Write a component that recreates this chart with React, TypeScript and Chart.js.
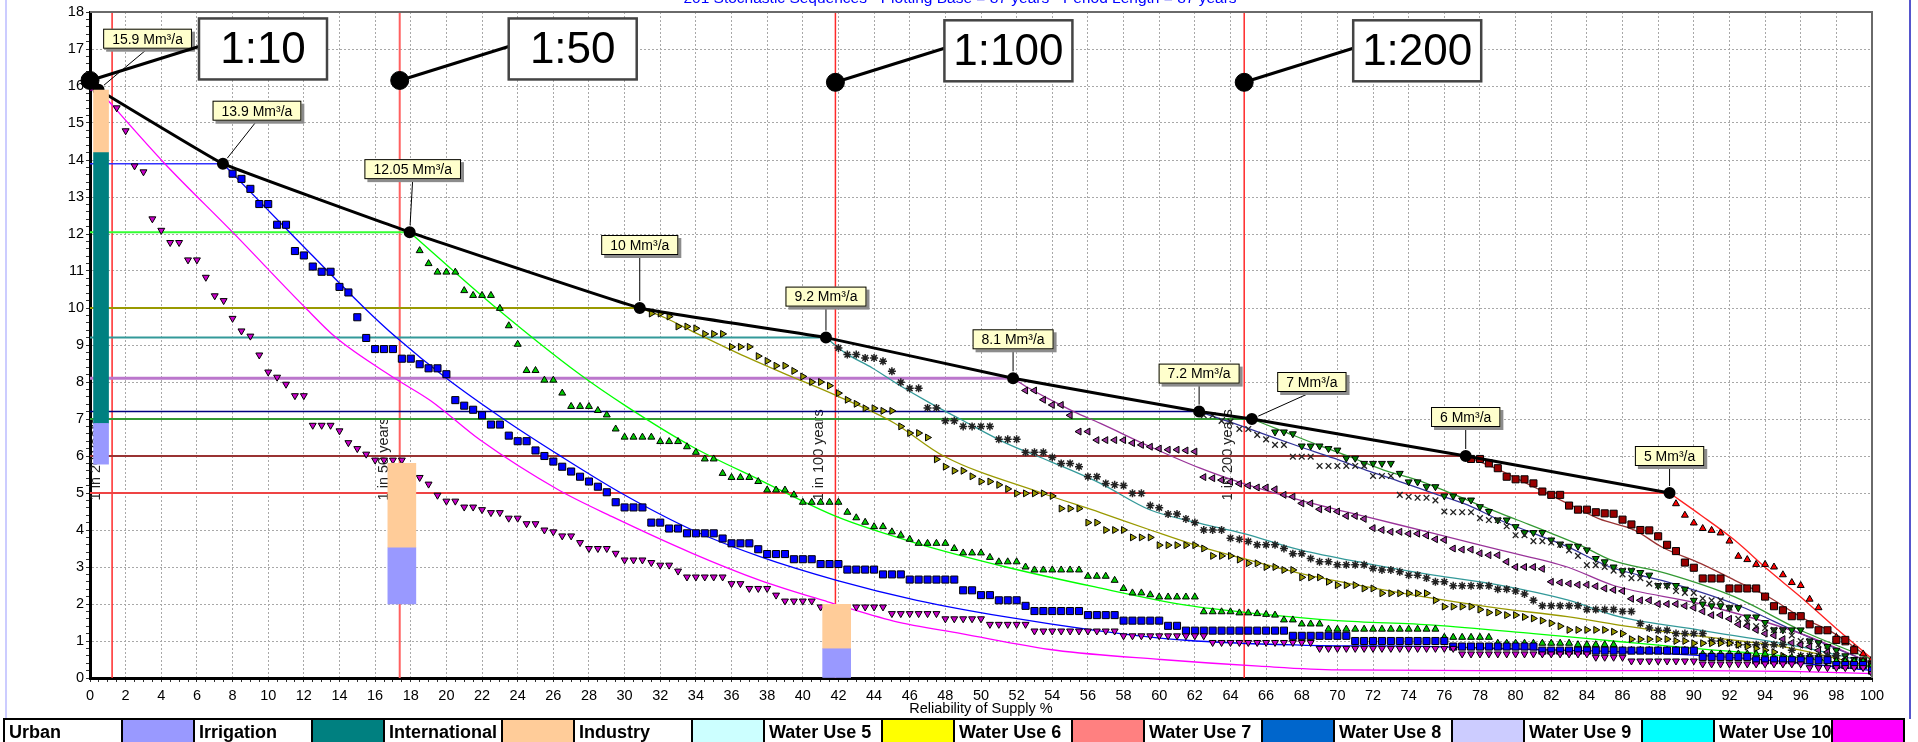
import React, { useEffect, useRef } from "react";
import { Chart, registerables } from "chart.js";

Chart.register(...registerables);

const FONT = '"Liberation Sans", Arial, Helvetica, sans-serif';

// ---------------- DATA ----------------
const chartTitle = "201 Stochastic Sequences - Plotting Base = 87 years - Period Length = 87 years";
const xAxisTitle = "Reliability of Supply %";

// plotting positions of the stochastic sequences (% reliability)
const reliability = [
  0.5, 1, 1.5, 2, 2.5, 3, 3.5, 4, 4.5, 5, 5.5, 6, 6.5, 7, 7.5, 8, 8.5, 9, 9.5, 10,
  10.5, 11, 11.5, 12, 12.5, 13, 13.5, 14, 14.5, 15, 15.5, 16, 16.5, 17, 17.5, 18, 18.5, 19, 19.5, 20,
  20.5, 21, 21.5, 22, 22.5, 23, 23.5, 24, 24.5, 25, 25.5, 26, 26.5, 27, 27.5, 28, 28.5, 29, 29.5, 30,
  30.5, 31, 31.5, 32, 32.5, 33, 33.5, 34, 34.5, 35, 35.5, 36, 36.5, 37, 37.5, 38, 38.5, 39, 39.5, 40,
  40.5, 41, 41.5, 42, 42.5, 43, 43.5, 44, 44.5, 45, 45.5, 46, 46.5, 47, 47.5, 48, 48.5, 49, 49.5, 50,
  50.5, 51, 51.5, 52, 52.5, 53, 53.5, 54, 54.5, 55, 55.5, 56, 56.5, 57, 57.5, 58, 58.5, 59, 59.5, 60,
  60.5, 61, 61.5, 62, 62.5, 63, 63.5, 64, 64.5, 65, 65.5, 66, 66.5, 67, 67.5, 68, 68.5, 69, 69.5, 70,
  70.5, 71, 71.5, 72, 72.5, 73, 73.5, 74, 74.5, 75, 75.5, 76, 76.5, 77, 77.5, 78, 78.5, 79, 79.5, 80,
  80.5, 81, 81.5, 82, 82.5, 83, 83.5, 84, 84.5, 85, 85.5, 86, 86.5, 87, 87.5, 88, 88.5, 89, 89.5, 90,
  90.5, 91, 91.5, 92, 92.5, 93, 93.5, 94, 94.5, 95, 95.5, 96, 96.5, 97, 97.5, 98, 98.5, 99, 99.5, 100,
];

// yield / reliability points (Mm³/a)
const yieldX = [0.48, 7.46, 17.94, 30.85, 41.3, 51.8, 62.24, 65.2, 77.2, 88.64];
const yieldY = [15.9, 13.9, 12.05, 10, 9.2, 8.1, 7.2, 7, 6, 5];

// return period markers
const returnPeriodX = [1.24, 17.38, 41.83, 64.77];
const returnPeriodText = ["1 in 20 years", "1 in 50 years", "1 in 100 years", "1 in 200 years"];
const bigDotX = [0, 17.38, 41.83, 64.77];
const bigDotY = [16.15, 16.15, 16.1, 16.1];
const bigLabels = ["1:10", "1:50", "1:100", "1:200"];

// stacked user bars
const barX = [0.62, 17.5, 41.9];
const urbanRange: (number[] | null)[] = [[5.78, 6.88], [2.0, 3.52], [0, 0.79]];
const irrigationRange: (number[] | null)[] = [[6.88, 14.2], null, null];
const internationalRange: (number[] | null)[] = [[14.2, 15.89], [3.52, 5.8], [0.79, 1.99]];

// stochastic supply points per yield level (first reliability + successive values)
const markerStarts = [1.5, 8, 18.5, 31.5, 42, 52.5, 62.5, 66.5, 77.5, 89];

const m159 = [
  15.41, 14.79, 13.84, 13.68, 12.41, 12.1, 11.77, 11.77, 11.3, 11.3,
  10.83, 10.33, 10.2, 9.72, 9.38, 9.24, 8.73, 8.27, 8.13, 7.94,
  7.63, 7.63, 6.83, 6.83, 6.83, 6.68, 6.36, 6.2, 6.05, 5.89,
  5.89, 5.89, 5.89, 5.6, 5.42, 5.24, 4.94, 4.78, 4.78, 4.62,
  4.62, 4.55, 4.47, 4.47, 4.32, 4.32, 4.17, 4.17, 4.0, 3.95,
  3.84, 3.84, 3.66, 3.5, 3.5, 3.5, 3.37, 3.19, 3.19, 3.19,
  3.12, 3.05, 3.05, 2.89, 2.73, 2.73, 2.73, 2.73, 2.73, 2.55,
  2.55, 2.42, 2.42, 2.42, 2.24, 2.08, 2.08, 2.08, 2.08, 1.92,
  1.92, 1.92, 1.92, 1.92, 1.92, 1.92, 1.92, 1.74, 1.74, 1.74,
  1.74, 1.74, 1.74, 1.6, 1.6, 1.6, 1.6, 1.6, 1.45, 1.45,
  1.45, 1.45, 1.45, 1.27, 1.27, 1.27, 1.27, 1.27, 1.27, 1.27,
  1.27, 1.27, 1.27, 1.14, 1.14, 1.14, 1.14, 1.14, 1.14, 1.14,
  1.14, 1.14, 1.14, 0.96, 0.96, 0.96, 0.96, 0.96, 0.96, 0.96,
  0.96, 0.96, 0.96, 0.96, 0.96, 0.8, 0.8, 0.8, 0.8, 0.8,
  0.8, 0.8, 0.8, 0.8, 0.8, 0.8, 0.8, 0.8, 0.8, 0.8,
  0.8, 0.65, 0.65, 0.65, 0.65, 0.65, 0.65, 0.65, 0.65, 0.65,
  0.65, 0.65, 0.65, 0.65, 0.65, 0.65, 0.56, 0.56, 0.56, 0.56,
  0.46, 0.46, 0.46, 0.46, 0.46, 0.46, 0.46, 0.46, 0.38, 0.38,
  0.38, 0.38, 0.38, 0.38, 0.38, 0.38, 0.38, 0.38, 0.38, 0.38,
  0.28, 0.28, 0.28, 0.28, 0.28, 0.28, 0.28, 0.12,
];
const m139 = [
  13.63, 13.49, 13.22, 12.81, 12.81, 12.25, 12.25, 11.54, 11.42, 11.12,
  10.98, 10.98, 10.57, 10.42, 9.75, 9.19, 8.89, 8.89, 8.89, 8.63,
  8.63, 8.48, 8.37, 8.37, 8.21, 7.51, 7.36, 7.25, 7.1, 6.85,
  6.85, 6.55, 6.4, 6.4, 6.15, 6.0, 5.85, 5.71, 5.58, 5.44,
  5.31, 5.17, 5.02, 4.75, 4.61, 4.61, 4.61, 4.2, 4.2, 4.04,
  4.04, 3.91, 3.91, 3.91, 3.91, 3.77, 3.64, 3.64, 3.64, 3.48,
  3.35, 3.35, 3.35, 3.21, 3.21, 3.21, 3.08, 3.08, 3.08, 2.93,
  2.93, 2.93, 2.93, 2.8, 2.8, 2.8, 2.66, 2.66, 2.66, 2.66,
  2.66, 2.66, 2.37, 2.37, 2.24, 2.24, 2.1, 2.1, 2.1, 1.95,
  1.81, 1.81, 1.81, 1.81, 1.81, 1.81, 1.7, 1.7, 1.7, 1.7,
  1.55, 1.55, 1.55, 1.55, 1.55, 1.41, 1.41, 1.28, 1.28, 1.28,
  1.28, 1.28, 1.28, 1.28, 1.28, 1.28, 1.28, 1.28, 1.28, 1.14,
  1.14, 1.14, 1.14, 1.14, 1.14, 1.14, 1.0, 1.0, 1.0, 1.0,
  1.0, 1.0, 1.0, 1.0, 1.0, 1.0, 1.0, 0.85, 0.85, 0.85,
  0.85, 0.85, 0.85, 0.85, 0.85, 0.85, 0.85, 0.74, 0.74, 0.74,
  0.74, 0.74, 0.74, 0.74, 0.74, 0.74, 0.74, 0.74, 0.74, 0.74,
  0.74, 0.74, 0.74, 0.74, 0.74, 0.57, 0.57, 0.57, 0.57, 0.57,
  0.57, 0.48, 0.48, 0.48, 0.48, 0.48, 0.48, 0.48, 0.48, 0.48,
  0.35, 0.35, 0.35, 0.35, 0.2,
];
const m1205 = [
  11.55, 11.2, 10.97, 10.97, 10.97, 10.47, 10.34, 10.34, 10.34, 9.99,
  9.52, 9.02, 8.31, 8.31, 8.05, 8.05, 7.7, 7.34, 7.34, 7.34,
  7.23, 7.11, 6.73, 6.51, 6.51, 6.51, 6.51, 6.39, 6.39, 6.39,
  6.25, 6.1, 5.92, 5.92, 5.53, 5.42, 5.42, 5.42, 5.31, 5.08,
  5.08, 5.08, 4.95, 4.75, 4.75, 4.75, 4.75, 4.75, 4.48, 4.33,
  4.21, 4.09, 4.09, 3.95, 3.86, 3.75, 3.64, 3.64, 3.64, 3.64,
  3.5, 3.38, 3.38, 3.38, 3.26, 3.14, 3.14, 3.14, 3.0, 2.92,
  2.92, 2.92, 2.92, 2.92, 2.92, 2.75, 2.75, 2.75, 2.64, 2.42,
  2.3, 2.3, 2.25, 2.19, 2.19, 2.19, 2.19, 2.19, 1.79, 1.79,
  1.79, 1.79, 1.76, 1.76, 1.74, 1.72, 1.7, 1.57, 1.57, 1.46,
  1.46, 1.46, 1.32, 1.32, 1.32, 1.32, 1.32, 1.32, 1.32, 1.32,
  1.32, 1.32, 1.32, 1.32, 1.32, 1.1, 1.1, 1.1, 1.1, 1.1,
  1.1, 0.94, 0.94, 0.94, 0.94, 0.94, 0.94, 0.94, 0.94, 0.94,
  0.9, 0.9, 0.9, 0.9, 0.9, 0.75, 0.75, 0.75, 0.75, 0.75,
  0.75, 0.75, 0.75, 0.75, 0.65, 0.65, 0.65, 0.65, 0.65, 0.65,
  0.65, 0.65, 0.55, 0.55, 0.55, 0.55, 0.55, 0.55, 0.45, 0.45,
  0.45, 0.45, 0.45, 0.35,
];
const m10 = [
  9.85, 9.85, 9.77, 9.5, 9.5, 9.45, 9.3, 9.3, 9.3, 8.95,
  8.95, 8.95, 8.7, 8.57, 8.44, 8.44, 8.3, 8.15, 8.0, 8.0,
  7.9, 7.7, 7.52, 7.41, 7.29, 7.29, 7.22, 7.22, 6.8, 6.62,
  6.62, 6.5, 5.91, 5.71, 5.6, 5.6, 5.45, 5.31, 5.31, 5.22,
  5.11, 4.99, 4.99, 4.99, 4.99, 4.92, 4.58, 4.58, 4.58, 4.2,
  4.2, 4.0, 4.0, 4.0, 3.8, 3.8, 3.8, 3.59, 3.59, 3.59,
  3.59, 3.59, 3.5, 3.3, 3.3, 3.3, 3.2, 3.1, 3.1, 3.0,
  3.0, 2.92, 2.92, 2.72, 2.72, 2.72, 2.6, 2.51, 2.51, 2.51,
  2.42, 2.42, 2.29, 2.29, 2.29, 2.29, 2.29, 2.29, 2.1, 1.93,
  1.93, 1.93, 1.93, 1.85, 1.77, 1.77, 1.7, 1.7, 1.65, 1.61,
  1.55, 1.48, 1.4, 1.3, 1.3, 1.3, 1.3, 1.3, 1.25, 1.2,
  1.05, 1.05, 1.05, 1.05, 1.05, 1.0, 1.0, 0.94, 0.94, 0.94,
  0.94, 0.94, 0.9, 0.85, 0.8, 0.75, 0.7, 0.6, 0.53, 0.53,
  0.53, 0.5, 0.44, 0.44, 0.44, 0.4, 0.35, 0.3,
];
const m92 = [
  8.92, 8.74, 8.74, 8.65, 8.65, 8.56, 8.29, 7.99, 7.83, 7.83,
  7.3, 7.3, 6.95, 6.95, 6.8, 6.8, 6.8, 6.8, 6.45, 6.45,
  6.45, 6.1, 6.1, 6.1, 5.96, 5.8, 5.8, 5.71, 5.44, 5.44,
  5.26, 5.22, 5.2, 4.99, 4.99, 4.66, 4.6, 4.43, 4.43, 4.3,
  4.2, 4.0, 4.0, 4.0, 3.78, 3.75, 3.69, 3.6, 3.6, 3.6,
  3.5, 3.36, 3.36, 3.23, 3.14, 3.14, 3.06, 3.06, 3.06, 3.06,
  2.96, 2.92, 2.92, 2.87, 2.78, 2.78, 2.7, 2.6, 2.6, 2.49,
  2.49, 2.49, 2.49, 2.49, 2.4, 2.4, 2.35, 2.27, 2.1, 1.95,
  1.95, 1.95, 1.95, 1.95, 1.85, 1.85, 1.85, 1.85, 1.8, 1.8,
  1.47, 1.35, 1.29, 1.29, 1.2, 1.2, 1.2, 1.2, 1.0, 1.0,
  0.95, 0.9, 0.9, 0.9, 0.9, 0.9, 0.9, 0.75, 0.6, 0.6,
  0.6, 0.6, 0.6, 0.45, 0.4, 0.35, 0.3,
];
const m81 = [
  7.77, 7.77, 7.52, 7.38, 7.38, 7.1, 6.66, 6.66, 6.43, 6.43,
  6.43, 6.43, 6.35, 6.3, 6.25, 6.2, 6.17, 6.17, 6.15, 6.12,
  5.43, 5.4, 5.35, 5.3, 5.25, 5.2, 5.15, 5.15, 5.1, 4.95,
  4.9, 4.72, 4.72, 4.56, 4.56, 4.5, 4.38, 4.38, 4.3, 4.05,
  4.0, 3.95, 3.95, 3.9, 3.9, 3.85, 3.75, 3.73, 3.5, 3.47,
  3.47, 3.37, 3.32, 3.32, 3.14, 3.0, 3.0, 3.0, 2.95, 2.6,
  2.58, 2.55, 2.52, 2.52, 2.48, 2.42, 2.38, 2.35, 2.14, 2.1,
  2.1, 2.0, 2.0, 2.0, 1.95, 1.9, 1.8, 1.7, 1.7, 1.6,
  1.45, 1.4, 1.3, 1.2, 1.15, 1.05, 0.95, 0.9, 0.85, 0.75,
  0.7, 0.6, 0.5, 0.45, 0.4, 0.3,
];
const m72 = [
  7.1, 7.1, 6.95, 6.93, 6.73, 6.73, 6.57, 6.45, 6.3, 6.3,
  5.98, 5.98, 5.98, 5.73, 5.73, 5.73, 5.73, 5.73, 5.73, 5.46,
  5.46, 5.46, 4.95, 4.9, 4.87, 4.87, 4.8, 4.5, 4.48, 4.48,
  4.48, 4.32, 4.27, 4.27, 4.1, 3.86, 3.86, 3.7, 3.7, 3.66,
  3.6, 3.45, 3.3, 3.05, 3.05, 3.0, 2.9, 2.8, 2.7, 2.7,
  2.55, 2.5, 2.5, 2.35, 2.3, 2.3, 2.15, 2.1, 2.1, 1.9,
  1.6, 1.5, 1.4, 1.35, 1.3, 1.3, 1.15, 1.0, 1.0, 0.9,
  0.75, 0.6, 0.55, 0.45, 0.4, 0.3,
];
const m7 = [
  6.65, 6.65, 6.6, 6.27, 6.27, 6.27, 6.2, 6.16, 5.94, 5.94,
  5.8, 5.8, 5.8, 5.8, 5.53, 5.3, 5.3, 5.17, 5.17, 4.92,
  4.92, 4.81, 4.81, 4.63, 4.5, 4.27, 4.27, 4.09, 3.93, 3.93,
  3.93, 3.73, 3.62, 3.56, 3.56, 3.46, 3.23, 3.14, 3.0, 2.9,
  2.9, 2.85, 2.78, 2.5, 2.5, 2.5, 2.4, 2.1, 2.0, 1.95,
  1.95, 1.9, 1.9, 1.65, 1.65, 1.5, 1.3, 1.3, 1.3, 1.3,
  1.0, 0.95, 0.85, 0.75, 0.6, 0.5, 0.45, 0.35,
];
const m6 = [
  5.92, 5.92, 5.8, 5.67, 5.44, 5.37, 5.37, 5.26, 5.04, 4.95,
  4.95, 4.66, 4.55, 4.55, 4.48, 4.45, 4.44, 4.28, 4.15, 4.0,
  3.99, 3.83, 3.6, 3.43, 3.12, 2.98, 2.69, 2.69, 2.69, 2.42,
  2.42, 2.42, 2.42, 2.2, 1.94, 1.83, 1.67, 1.67, 1.45, 1.29,
  1.29, 1.03, 1.03, 0.75, 0.45, 0.35,
];
const m5 = [
  4.71, 4.4, 4.19, 4.04, 3.99, 3.92, 3.7, 3.29, 3.2, 3.07,
  3.07, 3.0, 2.79, 2.58, 2.5, 2.13, 1.9, 1.27, 1.1, 0.95,
  0.8, 0.65, 0.52,
];

// fitted supply curves per yield level [reliability, Mm³/a]
const c159 = [[0.48, 15.9], [4.2, 13.9], [8.0, 12.05], [12.1, 10.0], [13.8, 9.2], [17.1, 8.1], [19.1, 7.5], [21.9, 6.43], [26.3, 5.08], [29.3, 4.36], [33.8, 3.37], [37.6, 2.64], [41.4, 2.06], [45.1, 1.54], [48.9, 1.2], [54.2, 0.75], [60.1, 0.5], [65.6, 0.32], [70, 0.22], [80, 0.2], [90, 0.2], [96, 0.17], [100, 0.12]];
const c139 = [[7.46, 13.9], [11.5, 11.9], [15.4, 10.0], [17.2, 9.2], [20.0, 8.1], [23.2, 7.0], [26.3, 6.03], [29.8, 5.0], [33.8, 4.0], [37.6, 3.28], [41.9, 2.64], [46.4, 2.1], [51.4, 1.65], [56.4, 1.29], [61.5, 1.02], [67.9, 0.89], [75.4, 0.85], [81, 0.77], [86, 0.71], [90, 0.62], [95, 0.45], [100, 0.2]];
const c1205 = [[17.94, 12.05], [22.8, 10.0], [27.5, 8.2], [30.1, 7.34], [33.8, 6.25], [37.6, 5.35], [41.9, 4.36], [46.4, 3.64], [51.4, 3.0], [56.4, 2.46], [61.5, 1.97], [65.5, 1.74], [70, 1.55], [75.4, 1.43], [81, 1.2], [85.9, 0.98], [90, 0.8], [95, 0.6], [100, 0.3]];
const c10 = [[30.85, 10], [32.3, 9.73], [33.8, 9.37], [36.35, 8.78], [38.9, 8.24], [41.8, 7.65], [45.1, 6.9], [47.9, 6.0], [53.4, 5.0], [56.7, 4.47], [59.5, 4.0], [62.3, 3.55], [64.7, 3.23], [67.9, 2.83], [71.6, 2.47], [75.4, 2.15], [79.1, 1.88], [82.9, 1.66], [85.8, 1.43], [90, 1.15], [95, 0.85], [100, 0.3]];
const c92 = [[41.3, 9.2], [42.4, 8.78], [43.9, 8.38], [45.4, 7.92], [47.15, 7.43], [48.9, 6.98], [51.4, 6.35], [53.9, 5.85], [56.7, 5.26], [59.5, 4.54], [62.3, 4.18], [64.7, 3.91], [67.9, 3.46], [71.6, 3.1], [75.4, 2.78], [79.1, 2.51], [82.9, 2.11], [85.8, 1.66], [90.4, 1.29], [96, 0.84], [100, 0.4]];
const c81 = [[51.8, 8.1], [52.7, 7.83], [53.9, 7.52], [55.2, 7.2], [56.7, 6.88], [59.5, 6.25], [62.3, 5.67], [64.7, 5.26], [67.9, 4.81], [71.6, 4.36], [75.4, 3.91], [79.1, 3.46], [82.9, 3.0], [85.5, 2.5], [90.4, 2.0], [96, 1.2], [100, 0.4]];
const c72 = [[62.24, 7.2], [64.2, 6.88], [66.0, 6.57], [67.9, 6.25], [69.8, 5.94], [71.6, 5.62], [73.5, 5.31], [75.4, 4.99], [77.3, 4.68], [79.1, 4.27], [81.0, 3.91], [82.9, 3.55], [85.3, 3.0], [88.5, 2.6], [92.3, 2.0], [96, 1.2], [100, 0.4]];
const c7 = [[65.2, 7.0], [67.0, 6.66], [68.9, 6.3], [70.7, 5.98], [72.6, 5.62], [74.5, 5.35], [76.4, 4.99], [78.2, 4.63], [80.1, 4.27], [82.0, 3.91], [83.8, 3.55], [85.3, 3.2], [88.5, 2.82], [92.3, 2.19], [96, 1.29], [100, 0.5]];
const c6 = [[77.2, 6.0], [79.1, 5.62], [81.0, 5.17], [82.9, 4.72], [84.7, 4.3], [86.7, 3.99], [88.2, 3.54], [90.4, 3.09], [92.3, 2.64], [94.2, 2.19], [96.0, 1.65], [97.9, 1.2], [100, 0.48]];
const c5 = [[88.64, 5.0], [90.4, 4.4], [92.3, 3.72], [94.2, 2.91], [96.0, 2.19], [97.9, 1.38], [100, 0.52]];

const markerValues = [m159, m139, m1205, m10, m92, m81, m72, m7, m6, m5];
const curves = [c159, c139, c1205, c10, c92, c81, c72, c7, c6, c5];

const legendNames = ["Urban", "Irrigation", "International", "Industry", "Water Use 5", "Water Use 6", "Water Use 7", "Water Use 8", "Water Use 9", "Water Use 10"];

// ---------------- STYLES ----------------
const legendColors = ["#9999ff", "#008080", "#ffcc99", "#ccffff", "#ffff00", "#ff8080", "#0066cc", "#ccccff", "#00ffff", "#ff00ff"];
const curveColors = ["#ff00ff", "#0000ff", "#00ff00", "#999900", "#339999", "#993399", "#333399", "#339933", "#993333", "#ff2020"];
const levelColors = ["#ff00ff", "#3333ff", "#33ff33", "#999900", "#339999", "#bb77cc", "#000080", "#339933", "#993333", "#ee4444"];
const levelWidths = [1.5, 1.5, 2, 2, 2, 3, 1.5, 2, 2, 2];
const markerShapes = ["triangle", "rect", "triangle", "triangle", "star", "triangle", "crossRot", "triangle", "rect", "triangle"];
const markerRotation = [180, 0, 0, 90, 0, 270, 0, 180, 0, 0];
const markerFill = ["#cc00cc", "#0000ff", "#00cc00", "#999900", "#333333", "#993399", "#222244", "#008000", "#990000", "#ff0000"];
const markerBorder = ["#000", "#000", "#000", "#000", "#222", "#000", "#222", "#000", "#000", "#000"];
const markerBorderW = [1, 1, 1, 1, 1.5, 1, 1.3, 1, 1, 1];
const markerRadius = [4, 5, 4, 4, 4, 4, 4, 4, 5, 4];
const calloutDx = [49, 34, 3, 0, 0, 0, 0, 60, 0, 0];
const calloutDy = [-41, -43, -53, -53, -31, -29, -28, -27, -29, -27];
const RETURN_LABEL_BASE = 4.8;
const GRID = "#a8a8a8";

const isInt = (v: number) => Math.abs(v - Math.round(v)) < 1e-6;

const fromGrid = (start: number, values: number[]) => {
  const i0 = reliability.indexOf(start);
  return values
    .map((y, i) => ({ x: reliability[i0 + i], y }))
    .filter((p) => p.x !== undefined);
};

const overlayPlugin = {
  id: "overlay",
  beforeDatasetsDraw(chart: any) {
    const { ctx, scales } = chart;
    const xs = scales.x;
    const ys = scales.y;
    ctx.save();
    ctx.fillStyle = "#222";
    ctx.font = `14.5px ${FONT}`;
    ctx.textAlign = "left";
    ctx.textBaseline = "middle";
    returnPeriodX.forEach((v, i) => {
      ctx.save();
      ctx.translate(xs.getPixelForValue(v) - 16, ys.getPixelForValue(RETURN_LABEL_BASE));
      ctx.rotate(-Math.PI / 2);
      ctx.fillText(returnPeriodText[i], 0, 0);
      ctx.restore();
    });
    ctx.restore();
  },
  afterDatasetsDraw(chart: any) {
    const { ctx, scales, chartArea } = chart;
    const xs = scales.x;
    const ys = scales.y;
    ctx.save();
    // frame top/right
    ctx.strokeStyle = "#6a6a6a";
    ctx.lineWidth = 2;
    ctx.beginPath();
    ctx.moveTo(chartArea.left, chartArea.top);
    ctx.lineTo(chartArea.right, chartArea.top);
    ctx.lineTo(chartArea.right, chartArea.bottom);
    ctx.stroke();

    // value callouts
    ctx.font = `14px ${FONT}`;
    yieldX.forEach((xv, i) => {
      const px = xs.getPixelForValue(xv);
      const py = ys.getPixelForValue(yieldY[i]);
      const text = `${yieldY[i]} Mm³/a`;
      const w = ctx.measureText(text).width + 18;
      const h = 20;
      const cx = px + calloutDx[i];
      const bottom = py + calloutDy[i];
      const left = cx - w / 2;
      const top = bottom - h;
      const dx = px - cx;
      const dy = py - bottom;
      const len = Math.hypot(dx, dy);
      const gap = 7;
      ctx.strokeStyle = "#000";
      ctx.lineWidth = 1;
      ctx.beginPath();
      ctx.moveTo(cx, bottom);
      ctx.lineTo(px - (dx / len) * gap, py - (dy / len) * gap);
      ctx.stroke();
      ctx.fillStyle = "#8c8c8c";
      ctx.fillRect(left + 3, top + 3, w, h);
      ctx.fillStyle = "#ffffcc";
      ctx.fillRect(left, top, w, h);
      ctx.strokeStyle = "#000";
      ctx.strokeRect(left + 0.5, top + 0.5, w - 1, h - 1);
      ctx.fillStyle = "#000";
      ctx.textAlign = "center";
      ctx.textBaseline = "middle";
      ctx.fillText(text, cx, top + h / 2 + 1);
    });

    // return-period callouts
    bigDotX.forEach((xv, i) => {
      const px = xs.getPixelForValue(xv);
      const py = ys.getPixelForValue(bigDotY[i]);
      const left = px + 109;
      const top = py - 62;
      const w = 128;
      const h = 61;
      ctx.strokeStyle = "#000";
      ctx.lineWidth = 3;
      ctx.beginPath();
      ctx.moveTo(px, py);
      ctx.lineTo(left, top + 28);
      ctx.stroke();
      ctx.fillStyle = "#fff";
      ctx.fillRect(left, top, w, h);
      ctx.strokeStyle = "#444";
      ctx.lineWidth = 2.5;
      ctx.strokeRect(left, top, w, h);
      ctx.fillStyle = "#000";
      ctx.font = `44px ${FONT}`;
      ctx.textAlign = "center";
      ctx.textBaseline = "middle";
      ctx.fillText(bigLabels[i], left + w / 2, top + h / 2 + 2);
    });
    ctx.restore();
  },
  afterDraw(chart: any) {
    const { ctx } = chart;
    ctx.save();
    ctx.fillStyle = "#0000ff";
    ctx.font = `15.5px ${FONT}`;
    ctx.textAlign = "center";
    ctx.textBaseline = "alphabetic";
    ctx.fillText(chartTitle, 960, 2.5);
    ctx.restore();
  },
};

export default function App() {
  const canvasRef = useRef<HTMLCanvasElement>(null);

  useEffect(() => {
    const canvas = canvasRef.current;
    if (!canvas) return;

    const datasets: any[] = [];

    datasets.push({
      type: "scatter",
      data: bigDotX.map((x, i) => ({ x, y: bigDotY[i] })),
      pointRadius: 9,
      pointBackgroundColor: "#000",
      pointBorderColor: "#000",
      clip: false,
      order: 0,
    });

    const barDefs = [
      { range: urbanRange, color: legendColors[0] },
      { range: irrigationRange, color: legendColors[1] },
      { range: internationalRange, color: legendColors[2] },
    ];
    barDefs.forEach((b) => {
      [[0], [1, 2]].forEach((idxs) => {
        const data = idxs
          .filter((k) => b.range[k])
          .map((k) => ({ x: barX[k], y: b.range[k] as number[] }));
        if (!data.length) return;
        datasets.push({
          type: "bar",
          data,
          backgroundColor: b.color,
          borderWidth: 0,
          grouped: false,
          barThickness: idxs[0] === 0 ? 15 : 28,
          order: 1,
        });
      });
    });

    datasets.push({
      type: "line",
      data: yieldX.map((x, i) => ({ x, y: yieldY[i] })),
      borderColor: "#000",
      borderWidth: 3,
      pointRadius: 4.5,
      pointBackgroundColor: "#000",
      pointBorderColor: "#000",
      tension: 0.08,
      fill: false,
      order: 2,
    });

    markerValues.forEach((vals, i) => {
      datasets.push({
        type: "scatter",
        data: fromGrid(markerStarts[i], vals),
        showLine: false,
        pointStyle: markerShapes[i],
        pointRotation: markerRotation[i],
        pointRadius: markerRadius[i],
        pointBackgroundColor: markerFill[i],
        pointBorderColor: markerBorder[i],
        pointBorderWidth: markerBorderW[i],
        order: 3,
      });
    });

    curves.forEach((c, i) => {
      datasets.push({
        type: "line",
        data: c.map(([x, y]) => ({ x, y })),
        borderColor: curveColors[i],
        borderWidth: 1.3,
        pointRadius: 0,
        cubicInterpolationMode: "monotone",
        fill: false,
        order: 4,
      });
    });

    yieldX.forEach((xv, i) => {
      datasets.push({
        type: "line",
        data: [
          { x: 0, y: yieldY[i] },
          { x: xv, y: yieldY[i] },
        ],
        borderColor: levelColors[i],
        borderWidth: levelWidths[i],
        pointRadius: 0,
        fill: false,
        order: 5,
      });
    });

    returnPeriodX.forEach((xv, i) => {
      datasets.push({
        type: "line",
        data: [
          { x: xv, y: 0 },
          { x: xv, y: 18 },
        ],
        borderColor: i === 1 ? "#ff6060" : "#ff2a2a",
        borderWidth: i === 1 ? 2 : 1.5,
        pointRadius: 0,
        fill: false,
        order: 6,
      });
    });

    const chart = new Chart(canvas, {
      type: "scatter",
      data: { datasets },
      options: {
        animation: false,
        responsive: false,
        devicePixelRatio: 1,
        events: [],
        layout: { padding: { left: 0, right: 46, top: 12, bottom: 0 } },
        plugins: {
          legend: { display: false },
          tooltip: { enabled: false },
          title: { display: false },
        },
        scales: {
          x: {
            type: "linear",
            min: 0,
            max: 100,
            offset: false,
            afterFit: (s: any) => {
              s.height = 41;
            },
            ticks: {
              stepSize: 0.5,
              maxTicksLimit: 1000,
              autoSkip: false,
              maxRotation: 0,
              minRotation: 0,
              padding: 5,
              color: "#000",
              font: { family: FONT, size: 14.5 },
              callback: (v: any) => {
                const n = Number(v);
                return isInt(n) && Math.round(n) % 2 === 0 ? String(Math.round(n)) : "";
              },
            },
            grid: {
              offset: false,
              color: (c: any) => {
                const v = c.tick ? c.tick.value : NaN;
                return isInt(v) && Math.round(v) % 2 === 0 ? GRID : "rgba(0,0,0,0)";
              },
              lineWidth: 1,
              tickLength: 4,
              tickColor: "#333",
              tickWidth: 1,
            },
            border: { display: true, color: "#000", width: 3, dash: [2, 2] },
            title: {
              display: true,
              text: xAxisTitle,
              color: "#000",
              font: { family: FONT, size: 14.5 },
              padding: { top: 0, bottom: 1 },
            },
          },
          y: {
            type: "linear",
            min: 0,
            max: 18,
            afterFit: (s: any) => {
              s.width = 90;
            },
            ticks: {
              stepSize: 0.2,
              maxTicksLimit: 1000,
              autoSkip: false,
              padding: 2,
              color: "#000",
              font: { family: FONT, size: 14.5 },
              callback: (v: any) => {
                const n = Number(v);
                return isInt(n) ? String(Math.round(n)) : "";
              },
            },
            grid: {
              color: (c: any) => {
                const v = c.tick ? c.tick.value : NaN;
                return isInt(v) ? GRID : "rgba(0,0,0,0)";
              },
              lineWidth: 1,
              tickLength: 4,
              tickColor: "#333",
              tickWidth: 1,
            },
            border: { display: true, color: "#000", width: 3, dash: [2, 2] },
          },
        },
      } as any,
      plugins: [overlayPlugin as any],
    });

    return () => chart.destroy();
  }, []);

  return (
    <div
      style={{
        position: "fixed",
        left: 0,
        top: 0,
        width: 1918,
        height: 742,
        overflow: "hidden",
        background: "#fff",
      }}
    >
      <div style={{ position: "absolute", left: 5, top: 0, width: 2, height: 719, background: "#ccccff" }} />
      <div style={{ position: "absolute", left: 1909, top: 0, width: 2, height: 719, background: "#5555cc" }} />
      <canvas
        ref={canvasRef}
        width={1918}
        height={719}
        style={{ position: "absolute", left: 0, top: 0, width: 1918, height: 719 }}
      />
      <div
        style={{
          position: "absolute",
          left: 3,
          top: 718,
          display: "flex",
          borderTop: "2px solid #000",
          height: 40,
        }}
      >
        {legendNames.map((n, i) => (
          <React.Fragment key={n}>
            <div
              style={{
                width: 118,
                height: 40,
                boxSizing: "border-box",
                borderLeft: "2px solid #000",
                font: `bold 18px ${FONT}`,
                lineHeight: "18px",
                padding: "3px 0 0 4px",
                whiteSpace: "nowrap",
                overflow: "hidden",
                color: "#000",
              }}
            >
              {n}
            </div>
            <div
              style={{
                width: 72,
                height: 40,
                boxSizing: "border-box",
                borderLeft: "2px solid #000",
                background: legendColors[i],
              }}
            />
          </React.Fragment>
        ))}
        <div style={{ width: 2, height: 40, background: "#000" }} />
      </div>
    </div>
  );
}
